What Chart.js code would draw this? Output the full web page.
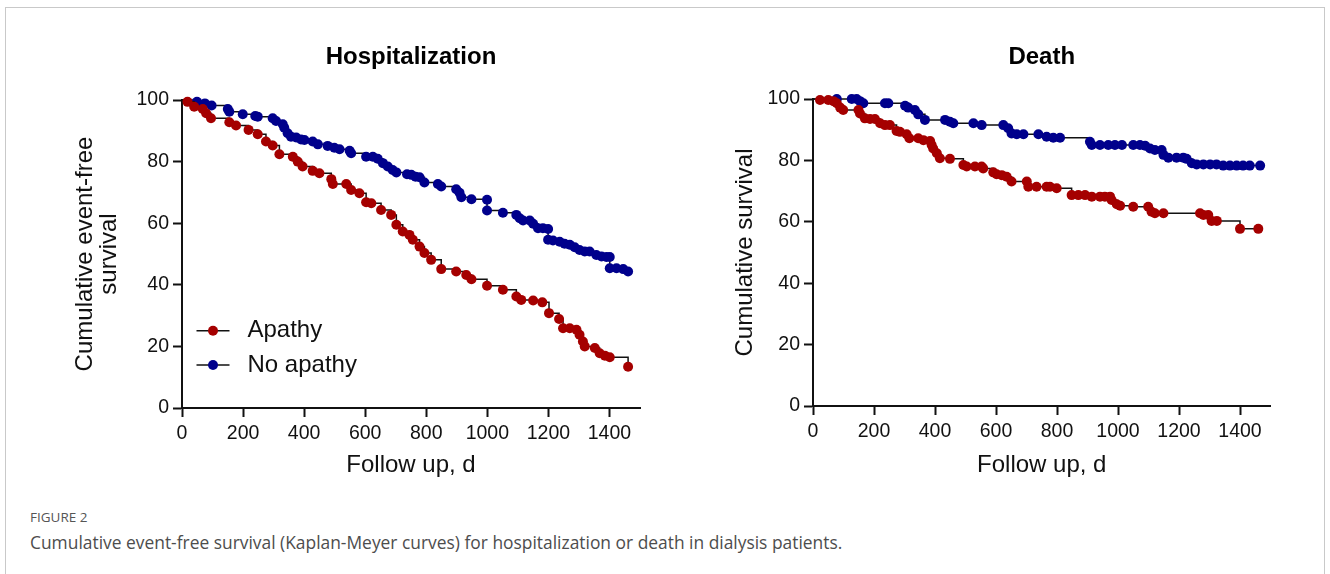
<!DOCTYPE html>
<html>
<head>
<meta charset="utf-8">
<script src="https://cdn.jsdelivr.net/npm/chart.js@4.4.1/dist/chart.umd.min.js"></script>
<style>
  body { margin: 0; background: #fff; width: 1330px; height: 574px; overflow: hidden; position: relative; }
  .frame { position: absolute; left: 5px; top: 7px; width: 1320px; height: 620px; border: 1.5px solid #c9c9c9; box-sizing: border-box; }
  .panel { position: absolute; top: 20px; height: 470px; }
  #hosp { left: 20px; width: 660px; }
  #death { left: 680px; width: 640px; }
  .fig-label { position: absolute; left: 30px; top: 508px; font: 13.5px "Open Sans", sans-serif; color: #555; }
  .fig-caption { position: absolute; left: 30px; top: 530px; font: 17.4px "Open Sans", sans-serif; color: #4d4d4d; }
</style>
</head>
<body>
<div class="frame"></div>
<div class="panel" id="hosp"><canvas id="hospChart" width="660" height="470"></canvas></div>
<div class="panel" id="death"><canvas id="deathChart" width="640" height="470"></canvas></div>
<div class="fig-label">FIGURE 2</div>
<div class="fig-caption">Cumulative event-free survival (Kaplan-Meyer curves) for hospitalization or death in dialysis patients.</div>
<script>
const xTicks = [0, 200, 400, 600, 800, 1000, 1200, 1400];
const yTicks = [0, 20, 40, 60, 80, 100];
const groupLabels = ['Apathy', 'No apathy'];
const groupColors = ['#a50000', '#00008c'];

// Hospitalization, apathy
const hospApathyDays = [0, 18, 40, 68, 79, 95, 155, 177, 218, 248, 275, 297, 319, 363, 379, 395, 428, 450, 489, 494, 538, 554, 581, 603, 620, 652, 685, 702, 723, 745, 756, 778, 794, 816, 849, 898, 931, 948, 999, 1051, 1095, 1111, 1150, 1180, 1202, 1235, 1248, 1270, 1292, 1302, 1313, 1319, 1352, 1368, 1385, 1401, 1461];
const hospApathySurv = [100, 99.4, 97.8, 97.1, 95.7, 94.1, 92.8, 91.7, 90.3, 88.9, 86.5, 85.2, 82.4, 81.6, 80.0, 78.4, 77.0, 76.2, 74.3, 72.7, 72.7, 70.8, 69.7, 66.8, 66.5, 64.3, 62.7, 59.5, 57.3, 56.2, 54.6, 52.4, 50.3, 48.1, 45.1, 44.3, 43.2, 41.8, 39.7, 38.4, 36.2, 35.1, 34.9, 34.3, 30.8, 28.9, 25.9, 25.9, 25.4, 23.8, 21.6, 20.0, 19.5, 17.8, 17.0, 16.5, 13.4];

// Hospitalization, no apathy
const hospNoApathyDays = [0, 49, 75, 97, 150, 155, 199, 240, 248, 297, 308, 330, 335, 346, 357, 374, 390, 401, 428, 445, 477, 499, 516, 549, 554, 603, 625, 641, 658, 674, 690, 702, 737, 751, 765, 778, 794, 838, 849, 898, 909, 915, 948, 999, 999, 1051, 1095, 1106, 1117, 1139, 1150, 1166, 1182, 1199, 1199, 1215, 1237, 1253, 1270, 1286, 1302, 1319, 1335, 1357, 1374, 1390, 1401, 1401, 1423, 1445, 1461];
const hospNoApathySurv = [100, 99.4, 98.9, 98.2, 97.1, 96.2, 95.4, 94.8, 94.6, 94.1, 93.2, 92.1, 91.0, 89.2, 88.1, 87.8, 87.2, 87.0, 86.5, 85.6, 85.1, 84.5, 84.0, 83.5, 82.7, 81.6, 81.6, 80.9, 79.5, 78.4, 77.3, 76.5, 75.9, 75.7, 75.1, 74.9, 73.2, 72.7, 71.9, 71.0, 69.9, 68.4, 67.8, 67.6, 64.1, 63.4, 62.7, 61.6, 60.9, 60.9, 59.8, 58.4, 58.4, 58.1, 54.6, 54.4, 54.0, 53.3, 53.0, 52.2, 51.3, 50.8, 50.8, 49.7, 49.2, 49.0, 49.0, 45.4, 45.4, 45.1, 44.3];

// Death, apathy
const deathApathyDays = [0, 23, 50, 67, 78, 89, 99, 149, 154, 170, 187, 203, 220, 236, 252, 274, 285, 307, 316, 345, 362, 384, 389, 394, 406, 416, 449, 493, 504, 531, 553, 558, 591, 602, 619, 635, 651, 701, 706, 733, 766, 777, 799, 848, 870, 892, 914, 941, 957, 974, 979, 996, 1007, 1050, 1099, 1110, 1121, 1149, 1269, 1280, 1296, 1307, 1324, 1400, 1460];
const deathApathySurv = [100, 99.7, 99.7, 99.3, 98.6, 97.2, 96.4, 96.4, 95.3, 93.7, 93.5, 93.5, 92.1, 91.5, 91.5, 89.6, 89.3, 88.5, 87.2, 87.2, 86.6, 86.3, 85.0, 83.9, 82.3, 80.7, 80.5, 78.5, 78.0, 78.0, 78.0, 77.4, 76.1, 75.5, 75.2, 74.7, 73.1, 73.1, 71.4, 71.4, 71.4, 71.4, 70.9, 68.7, 68.7, 68.7, 68.2, 68.2, 68.2, 68.2, 67.1, 65.7, 65.2, 64.9, 64.9, 63.3, 62.8, 62.8, 62.8, 62.2, 62.2, 60.3, 60.3, 57.7, 57.7];

// Death, no apathy
const deathNoApathyDays = [0, 78, 127, 143, 154, 165, 236, 247, 302, 312, 334, 345, 367, 433, 449, 460, 526, 553, 624, 640, 651, 668, 690, 739, 766, 788, 810, 908, 914, 941, 968, 990, 1013, 1050, 1072, 1089, 1105, 1121, 1143, 1149, 1165, 1192, 1214, 1225, 1242, 1258, 1280, 1302, 1323, 1345, 1367, 1389, 1410, 1432, 1466];
const deathNoApathySurv = [100, 100, 100, 100, 99.3, 98.6, 98.6, 98.6, 97.8, 97.2, 96.4, 95.0, 93.2, 93.2, 92.6, 92.1, 92.1, 91.5, 91.5, 90.5, 88.8, 88.5, 88.5, 88.5, 87.7, 87.4, 87.4, 86.1, 85.0, 85.0, 85.0, 85.0, 85.0, 85.0, 85.0, 84.8, 83.9, 83.4, 83.4, 81.8, 80.9, 80.9, 80.9, 80.5, 79.1, 78.7, 78.7, 78.7, 78.7, 78.3, 78.3, 78.3, 78.3, 78.3, 78.3];

const fontFamily = '"Liberation Sans", Arial, sans-serif';

const toPoints = (days, surv) => days.map((d, i) => ({ x: d, y: surv[i] }));

// legend drawn inside the plot: short black line with a dot, then the label
const kmLegend = {
  id: 'kmLegend',
  afterDraw(chart, args, opts) {
    if (!opts.show) return;
    const { ctx, chartArea } = chart;
    ctx.save();
    chart.data.datasets.forEach((ds, i) => {
      const y = chartArea.top + opts.top + i * opts.gap;
      const x0 = chartArea.left + opts.left;
      ctx.strokeStyle = '#111';
      ctx.lineWidth = 1.5;
      ctx.beginPath();
      ctx.moveTo(x0, y);
      ctx.lineTo(x0 + 33, y);
      ctx.stroke();
      ctx.fillStyle = ds.pointBackgroundColor;
      ctx.beginPath();
      ctx.arc(x0 + 16.5, y, 5, 0, Math.PI * 2);
      ctx.fill();
      ctx.fillStyle = '#111';
      ctx.font = '24px ' + fontFamily;
      ctx.textBaseline = 'middle';
      ctx.fillText(ds.label, x0 + 51, y);
    });
    ctx.restore();
  }
};

const makeDataset = (label, color, days, surv) => ({
  label: label,
  data: toPoints(days, surv),
  showLine: true,
  stepped: true,
  borderColor: '#111',
  borderWidth: 1.5,
  pointBackgroundColor: color,
  pointBorderWidth: 0,
  pointRadius: (c) => (c.dataIndex === 0 ? 0 : 5),
  clip: false,
});

const makeChart = (canvasId, title, yTitle, series, cfg) => {
  const canvas = document.getElementById(canvasId);
  new Chart(canvas, {
    type: 'scatter',
    data: {
      datasets: series.map((s, i) => makeDataset(groupLabels[i], groupColors[i], s[0], s[1])),
    },
    options: {
      responsive: false,
      animation: false,
      events: [],
      layout: { padding: { left: 0, right: cfg.padRight, top: 0, bottom: 0 } },
      plugins: {
        legend: { display: false },
        tooltip: { enabled: false },
        title: {
          display: true,
          text: title,
          fullSize: false,
          color: '#000',
          font: { family: fontFamily, size: 24, weight: 'bold', lineHeight: 1.2 },
          padding: { top: 22.6, bottom: cfg.titleBottom },
        },
        kmLegend: cfg.legend,
      },
      scales: {
        x: {
          type: 'linear',
          min: 0,
          max: 1500,
          afterBuildTicks: (s) => { s.ticks = xTicks.map((v) => ({ value: v })); },
          afterFit: (s) => { s.height = cfg.xHeight; },
          border: { display: true, color: '#111', width: 2 },
          grid: { display: true, drawOnChartArea: false, drawTicks: true, tickLength: 9, tickWidth: 2, tickColor: '#111' },
          ticks: { color: '#111', padding: 5, font: { family: fontFamily, size: 19.5 }, maxRotation: 0, callback: (v) => String(v) },
          title: {
            display: true,
            text: 'Follow up, d',
            color: '#111',
            font: { family: fontFamily, size: 24, lineHeight: 1.2 },
            padding: { top: 0, bottom: 10 },
          },
        },
        y: {
          type: 'linear',
          min: 0,
          max: 100,
          afterBuildTicks: (s) => { s.ticks = yTicks.map((v) => ({ value: v })); },
          afterFit: (s) => { s.width = cfg.yWidth; },
          border: { display: true, color: '#111', width: 2 },
          grid: { display: true, drawOnChartArea: false, drawTicks: true, tickLength: 9, tickWidth: 2, tickColor: '#111' },
          ticks: { color: '#111', padding: 4, font: { family: fontFamily, size: 19.5 }, callback: (v) => String(v) },
          title: {
            display: true,
            text: yTitle,
            color: '#111',
            font: { family: fontFamily, size: 24, lineHeight: 1.0 },
            padding: { top: 53.6, bottom: 0 },
          },
        },
      },
    },
    plugins: [kmLegend],
  });
};

makeChart('hospChart', 'Hospitalization', ['Cumulative event-free', 'survival'],
  [[hospApathyDays, hospApathySurv], [hospNoApathyDays, hospNoApathySurv]],
  { padRight: 40, titleBottom: 28.6, xHeight: 82, yWidth: 162,
    legend: { show: true, left: 14.5, top: 230.7, gap: 34.3 } });

makeChart('deathChart', 'Death', 'Cumulative survival',
  [[deathApathyDays, deathApathySurv], [deathNoApathyDays, deathNoApathySurv]],
  { padRight: 49.5, titleBottom: 27.6, xHeight: 84, yWidth: 133,
    legend: { show: false } });
</script>
</body>
</html>
